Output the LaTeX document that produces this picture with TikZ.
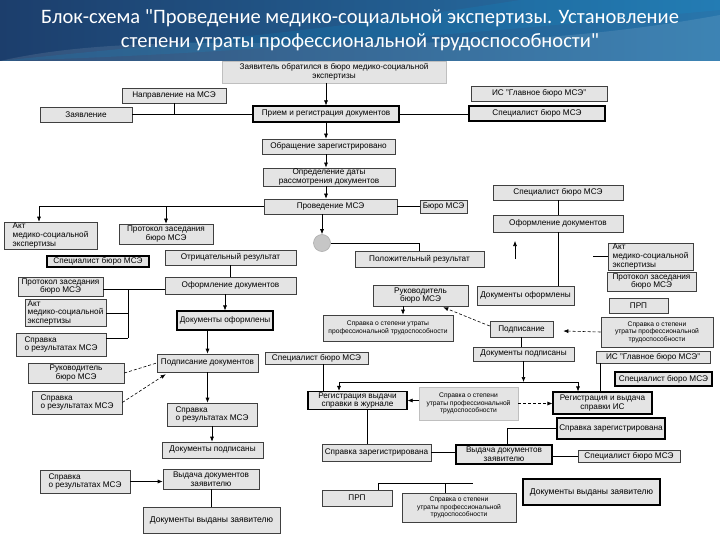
\documentclass[tikz,border=0pt]{standalone}
\usepackage{fontspec}
\setmainfont{Liberation Sans}
\newfontfamily\titlefont{Carlito}
\usetikzlibrary{arrows.meta,calc}
\definecolor{bandL}{RGB}{28,62,108}
\definecolor{bandR}{RGB}{40,118,172}
\definecolor{boxfill}{RGB}{228,228,228}
\newcommand\B[7][]{\node[bx,#1,minimum width={(#5-#3)*1pt},minimum height={(#6-#4)*1pt}] (#2) at ({(#3+#5)/2},{(#4+#6)/2}) {#7};}
\begin{document}
\begin{tikzpicture}[x=1pt,y=-1pt,
  bx/.style={draw=black!75,line width=0.6pt,fill=boxfill,inner sep=1pt,align=center,font=\fontsize{8.2}{8.8}\selectfont},
  thk/.style={draw=black,line width=1.1pt},
  lite/.style={draw=black!25,line width=0.4pt},
  sml/.style={font=\fontsize{6.7}{7.5}\selectfont},
  big/.style={font=\fontsize{8.6}{9.4}\selectfont},
  circ/.style={circle,fill=gray!45,draw=gray!65,minimum size=17pt,inner sep=0pt},
  arr/.style={-{Latex[length=5pt,width=4pt]}},
  dsh/.style={dashed,dash pattern=on 3pt off 2pt},
  every path/.style={line width=0.6pt}]
\useasboundingbox (0,0) rectangle (720,540);
% title band
\fill[left color=bandL,right color=bandR] (0,0) rectangle (720,61);
\fill[white,opacity=0.10] (0,61) .. controls (180,20) and (420,70) .. (720,15) -- (720,61) -- cycle;
\fill[cyan,opacity=0.12] (0,61) .. controls (150,45) and (300,35) .. (520,0) -- (720,0) -- (720,10) .. controls (400,40) and (200,55) .. (0,61) -- cycle;
\node[text=white,font=\titlefont\fontsize{20.5}{23}\selectfont] (t1) at (360,18) {Блок-схема "Проведение медико-социальной экспертизы. Установление};
\node[text=white,font=\titlefont\fontsize{20.5}{23}\selectfont] (t2) at (360,42) {степени утраты профессиональной трудоспособности"};
% boxes
\B[lite]{zayav}{222}{61}{446}{83}{Заявитель обратился в бюро медико-социальной\\экспертизы}
\B{napr}{122}{88}{226}{103}{Направление на МСЭ}
\B{zayavl}{40}{107}{132}{122}{Заявление}
\B[thk]{priem}{253}{106}{399}{122}{Прием и регистрация документов}
\B{isg1}{471}{86}{607}{101}{ИС "Главное бюро МСЭ"}
\B[thk]{spec1}{469}{106}{605}{121}{Специалист бюро МСЭ}
\B{obr}{262}{139}{395}{154}{Обращение зарегистрировано}
\B{opr}{263}{168}{395}{186}{Определение даты\\рассмотрения документов}
\B{prov}{264}{199}{397}{214}{Проведение МСЭ}
\B{buro}{420}{200}{467}{213}{Бюро МСЭ}
\B[align=left]{akt1}{4}{223}{97}{248}{Акт\\медико-социальной\\экспертизы}
\B{prot1}{119}{224}{213}{244}{Протокол заседания\\бюро МСЭ}
\node[circ] (circ) at (322,243) {};
\B{pol}{355}{251}{484}{267}{Положительный результат}
\B{otr}{165}{250}{296}{265}{Отрицательный результат}
\B[thk]{spec2}{47}{256}{149}{267}{Специалист бюро МСЭ}
\B{ofl}{165}{277}{296}{294}{Оформление документов}
\B{prot2}{18}{277}{103}{296}{Протокол заседания\\бюро МСЭ}
\B[align=left]{akt2}{25}{300}{106}{326}{Акт\\медико-социальной\\экспертизы}
\B[align=left]{sprav1}{16}{333}{106}{356}{Справка\\о результатах МСЭ}
\B[thk]{dof1}{177}{311}{273}{330}{Документы оформлены}
\B{podp1}{157}{354}{258}{372}{Подписание документов}
\B{ruk1}{28}{363}{124}{383}{Руководитель\\бюро МСЭ}
\B[align=left]{sprav2}{32}{391}{122}{414}{Справка\\о результатах МСЭ}
\B[align=left]{sprav3}{167}{403}{257}{426}{Справка\\о результатах МСЭ}
\B{dpod1}{162}{442}{263}{458}{Документы подписаны}
\B{vyd1}{163}{469}{259}{489}{Выдача документов\\заявителю}
\B[align=left]{sprav4}{40}{470}{130}{493}{Справка\\о результатах МСЭ}
\B[big]{dvz1}{143}{507}{280}{533}{Документы выданы заявителю}
\B{spec3}{493}{185}{623}{200}{Специалист бюро МСЭ}
\B{oformR}{493}{215}{623}{232}{Оформление документов}
\B[align=left]{aktR}{608}{243}{693}{270}{Акт\\медико-социальной\\экспертизы}
\B{protR}{607}{272}{696}{291}{Протокол заседания\\бюро МСЭ}
\B{dofR}{477}{286}{574}{305}{Документы оформлены}
\B{rukM}{373}{285}{468}{306}{Руководитель\\бюро МСЭ}
\B{prpR}{609}{298}{668}{313}{ПРП}
\B[sml]{spsM}{323}{315}{453}{341}{Справка о степени утраты\\профессиональной трудоспособности}
\B{podpM}{490}{321}{553}{337}{Подписание}
\B[sml]{sprR}{601}{317}{713}{347}{Справка о степени\\утраты профессиональной\\трудоспособности}
\B{dpodM}{473}{347}{574}{361}{Документы подписаны}
\B{isg2}{596}{351}{710}{363}{ИС "Главное бюро МСЭ"}
\B[thk]{spec4}{615}{372}{712}{386}{Специалист бюро МСЭ}
\B{specM}{265}{352}{368}{364}{Специалист бюро МСЭ}
\B[thk]{regJ}{308}{392}{407}{409}{Регистрация выдачи\\справки в журнале}
\B[lite,sml]{sprC}{419}{387}{518}{420}{Справка о степени\\утраты профессиональной\\трудоспособности}
\B[thk]{regIS}{553}{392}{652}{414}{Регистрация и выдача\\справки ИС}
\B[thk]{szR}{557}{418}{665}{439}{Справка зарегистрирована}
\B{szL}{322}{444}{431}{461}{Справка зарегистрирована}
\B[thk]{vydC}{456}{445}{552}{464}{Выдача документов\\заявителю}
\B{specB}{578}{450}{680}{462}{Специалист бюро МСЭ}
\B{prpB}{322}{490}{392}{506}{ПРП}
\B[sml]{sprB}{402}{493}{516}{522}{Справка о степени\\утраты профессиональной\\трудоспособности}
\B[thk,big]{dvzR}{523}{479}{660}{505}{Документы выданы заявителю}
% helper coordinates
\coordinate (j1) at (39,206.5);
\coordinate (bk1) at (128,289);
\coordinate (bk2) at (128,313);
\coordinate (bk3) at (128,338);
\coordinate (fa1) at (515,259);
\coordinate (fa2) at (515,241);
\coordinate (st1) at (593,256);
\coordinate (rx) at (403,0);
\coordinate (h1) at (339,382);
\coordinate (h2) at (578,382);
\coordinate (sx) at (323,0);
\coordinate (ix) at (600,0);
\coordinate (rx2) at (367,0);
\coordinate (vx) at (507,0);
\coordinate (b1) at (378,483);
\coordinate (b2) at (473,483);
\coordinate (b3) at (445,483);
% connectors
\draw[arr] (priem.north |- zayav.south) -- (priem.north);
\draw (zayavl.east) -- (zayavl.east -| priem.west);
\draw (napr.south) -- (napr.south |- zayavl.east);
\draw (priem.east) -- (priem.east -| spec1.west);
\draw[arr] (priem.south) -- (priem.south |- obr.north);
\draw[arr] (obr.south -| priem.south) -- (opr.north -| priem.south);
\draw[arr] (opr.south -| priem.south) -- (prov.north -| priem.south);
\draw (prov.east) -- (buro.west);
\draw (prov.west) -- (j1);
\draw[arr] (j1) -- (j1 |- akt1.north);
\draw[arr] (prot1.north |- j1) -- (prot1.north);
\draw[arr] (circ.north |- prov.south) -- (circ.north);
\draw (circ.east) -| (pol.north);
\draw (otr.south) -- (ofl.north);
\draw (prot2.east |- bk1) -- (bk1 -| ofl.west);
\draw (bk1) -- (bk3);
\draw (akt2.east |- bk2) -- (bk2);
\draw (sprav1.east |- bk3) -- (bk3);
\draw[arr] (ofl.south -| dof1.north) -- (dof1.north);
\draw[arr] (dof1.south -| podp1.north) -- (podp1.north);
\draw[dsh] (ruk1.east) -- (podp1.west);
\draw[dsh,arr] (sprav2.east) -- ($(podp1.south west)+(9,2)$);
\draw[arr] (podp1.south) -- (podp1.south |- sprav3.north);
\draw[arr] (sprav3.south) -- (sprav3.south |- dpod1.north);
\draw[arr] (sprav4.east) -- (sprav4.east -| vyd1.west);
\draw (vyd1.south) -- (vyd1.south |- dvz1.north);
\draw (spec3.south) -- (oformR.north);
\draw[arr] (fa1) -- (fa2);
\draw (oformR.south) -- (oformR.south |- dofR.north);
\draw (st1) -- (st1 -| aktR.west);
\draw[arr] (rukM.south -| rx) -- (spsM.north -| rx);
\draw[dsh,arr] ($(podpM.west)+(0,-3)$) -- ($(rukM.south east)+(-25,1)$);
\draw[dsh,arr] (sprR.west) -- ($(podpM.east)+(10,2)$);
\draw (podpM.south) -- (podpM.south |- dpodM.north);
\draw[arr] (dpodM.south) -- (dpodM.south |- h1);
\draw (h1) -- (h2);
\draw[arr] (h1) -- (h1 |- regJ.north);
\draw[arr] (h2) -- (h2 |- regIS.north);
\draw (specM.south -| sx) -- (regJ.north -| sx);
\draw (isg2.south -| ix) -- (regIS.north -| ix);
\draw[arr] (regJ.east -| sprC.west) -- (regJ.east);
\draw[dsh,arr] (sprC.east) -- (sprC.east -| regIS.west);
\draw (regJ.south -| rx2) -- (szL.north -| rx2);
\draw (szL.east) -- (szL.east -| vydC.west);
\draw (szR.west) -| (vydC.north -| vx);
\draw (vydC.east |- specB.west) -- (specB.west);
\draw (b1) -- (b2);
\draw (b1) -- (b1 |- prpB.north);
\draw (b3) -- (b3 |- sprB.north);
\end{tikzpicture}
\end{document}
